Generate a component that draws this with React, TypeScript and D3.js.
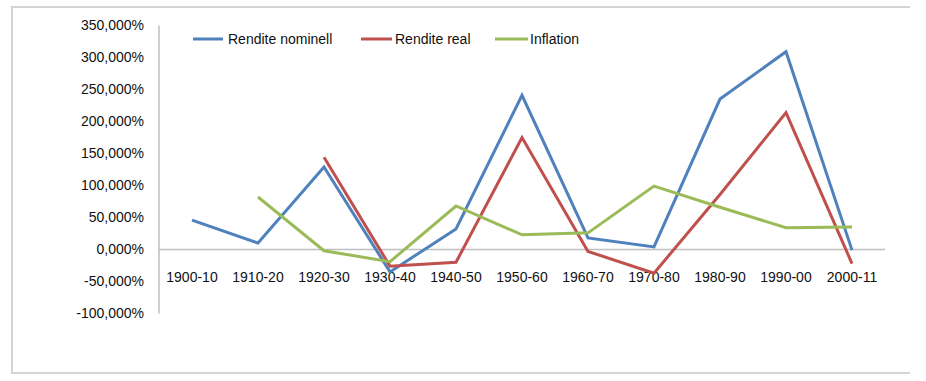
import React from "react";
import * as d3 from "d3";

const categories = ["1900-10", "1910-20", "1920-30", "1930-40", "1940-50", "1950-60", "1960-70", "1970-80", "1980-90", "1990-00", "2000-11"];
const renditeNominell: (number | null)[] = [46, 10, 129, -35, 32, 241, 18, 4, 235, 309, -1];
const renditeReal: (number | null)[] = [null, null, 144, -26, -20, 175, -3, -37, 86, 214, -22];
const inflation: (number | null)[] = [null, 82, -2, -19, 68, 23, 26, 99, 66, 34, 35];
const yTicks = [-100, -50, 0, 50, 100, 150, 200, 250, 300, 350];

const seriesNames = ["Rendite nominell", "Rendite real", "Inflation"];
const seriesColors = ["#4F81BD", "#C0504D", "#9BBB59"];

const W = 926;
const H = 381;
const plotLeft = 159;
const plotRight = 885;
const yTop = 25.5;
const yBottom = 313.5;

const fmtLabel = (v: number) => `${v},000%`;

export default function App() {
  const x = d3.scaleBand<string>().domain(categories).range([plotLeft, plotRight]);
  const y = d3.scaleLinear().domain([-100, 350]).range([yBottom, yTop]);
  const all = [renditeNominell, renditeReal, inflation];
  const line = d3
    .line<number | null>()
    .defined((d) => d !== null)
    .x((_, i) => (x(categories[i]) as number) + x.bandwidth() / 2)
    .y((d) => y(d as number));

  const font = "'Liberation Sans', Arial, sans-serif";
  const legendItems = [
    { x0: 193, x1: 223, tx: 228 },
    { x0: 361, x1: 392, tx: 395 },
    { x0: 495, x1: 528, tx: 530 },
  ];

  return (
    <svg width={W} height={H} style={{ position: "absolute", left: 0, top: 0 }}>
      <rect x={0} y={0} width={W} height={H} fill="#fff" />
      <path d="M910,7 H12 V373 H910" fill="none" stroke="#D4D4D4" strokeWidth={2} />
      <line x1={plotLeft} x2={plotLeft} y1={y(350)} y2={y(-100)} stroke="#BFBFBF" strokeWidth={1.5} />
      <line x1={plotLeft} x2={plotRight} y1={y(0)} y2={y(0)} stroke="#BFBFBF" strokeWidth={1.5} />
      {yTicks.map((t) => (
        <text key={t} x={144} y={y(t)} dy="0.35em" textAnchor="end" fontFamily={font} fontSize={14} fill="#111">
          {fmtLabel(t)}
        </text>
      ))}
      {categories.map((c) => (
        <text key={c} x={(x(c) as number) + x.bandwidth() / 2} y={277} dy="0.35em" textAnchor="middle" fontFamily={font} fontSize={14} fill="#111">
          {c}
        </text>
      ))}
      {all.map((s, i) => (
        <path key={i} d={line(s) || ""} fill="none" stroke={seriesColors[i]} strokeWidth={3} strokeLinejoin="miter" />
      ))}
      {legendItems.map((l, i) => (
        <g key={i}>
          <line x1={l.x0} x2={l.x1} y1={39} y2={39} stroke={seriesColors[i]} strokeWidth={3} />
          <text x={l.tx} y={39} dy="0.35em" fontFamily={font} fontSize={14} fill="#111">
            {seriesNames[i]}
          </text>
        </g>
      ))}
    </svg>
  );
}
